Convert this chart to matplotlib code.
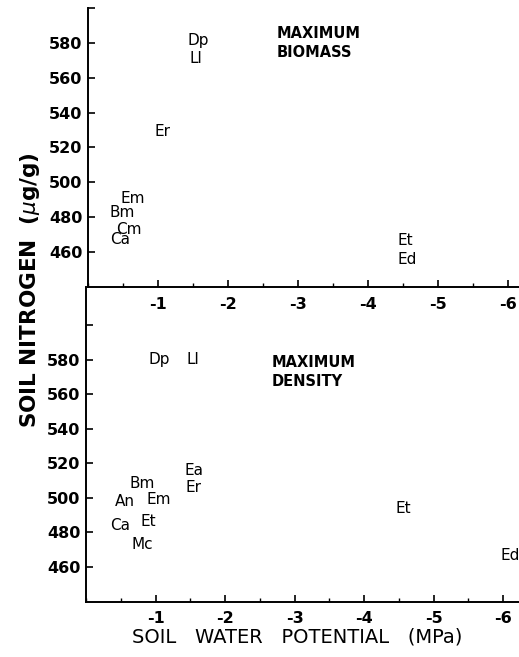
import matplotlib
matplotlib.use("Agg")
import matplotlib.pyplot as plt
from matplotlib.ticker import FixedLocator, FixedFormatter, MultipleLocator

# species codes placed at (soil water potential MPa, soil nitrogen ug/g)
biomass_codes = ["Dp", "Ll", "Er", "Em", "Bm", "Cm", "Ca", "Et", "Ed"]
biomass_psi = [-1.57, -1.54, -1.07, -0.64, -0.49, -0.59, -0.46, -4.53, -4.56]
biomass_n = [581.5, 571.0, 529.0, 490.5, 482.5, 473.0, 467.0, 466.5, 455.5]

density_codes = ["Dp", "Ll", "Ea", "Er", "Bm", "An", "Em", "Ca", "Et", "Mc", "Et", "Ed"]
density_psi = [-1.06, -1.54, -1.56, -1.54, -0.81, -0.56, -1.04, -0.49, -0.89, -0.81, -4.57, -6.10]
density_n = [580.0, 580.0, 516.0, 506.0, 508.5, 498.0, 499.0, 484.0, 486.5, 473.0, 494.0, 466.5]

y_ticks = [460, 480, 500, 520, 540, 560, 580, 600]
y_labels = ["460", "480", "500", "520", "540", "560", "580", ""]
x_ticks = [-1, -2, -3, -4, -5, -6]
x_labels = ["-1", "-2", "-3", "-4", "-5", "-6"]

W, H = 519, 657
fig = plt.figure(figsize=(W / 100, H / 100), dpi=100)

ax_top = fig.add_axes([88 / W, (H - 287) / H, (W - 88) / W, 279 / H])
ax_bot = fig.add_axes([86 / W, (H - 601.5) / H, (W - 86) / W, 314.5 / H])


def style_axis(ax, ylim, xlim):
    ax.set_xlim(*xlim)
    ax.set_ylim(*ylim)
    ax.patch.set_alpha(0)
    for side in ("top", "right"):
        ax.spines[side].set_visible(False)
    for side in ("left", "bottom"):
        ax.spines[side].set_linewidth(1.4)
    ax.yaxis.set_major_locator(FixedLocator(y_ticks))
    ax.yaxis.set_major_formatter(FixedFormatter(y_labels))
    ax.xaxis.set_major_locator(FixedLocator(x_ticks))
    ax.xaxis.set_major_formatter(FixedFormatter(x_labels))
    ax.xaxis.set_minor_locator(MultipleLocator(0.5))
    ax.tick_params(axis="both", which="major", direction="in", length=5,
                   width=1.2, labelsize=11.5)
    ax.tick_params(axis="x", which="minor", direction="in", length=3, width=1.0)
    ax.tick_params(axis="x", which="major", pad=7)
    ax.tick_params(axis="y", which="major", pad=4)
    for lab in ax.get_xticklabels() + ax.get_yticklabels():
        lab.set_fontweight("bold")


style_axis(ax_top, (440, 600), (0, -6.16))
style_axis(ax_bot, (440, 622), (0, -6.23))

for code, x, y in zip(biomass_codes, biomass_psi, biomass_n):
    ax_top.text(x, y, code, fontsize=11, ha="center", va="center")
for code, x, y in zip(density_codes, density_psi, density_n):
    ax_bot.text(x, y, code, fontsize=11, ha="center", va="center")

ax_top.text(-2.69, 580, "MAXIMUM\nBIOMASS", fontsize=10.5, fontweight="bold",
            ha="left", va="center", linespacing=1.35)
ax_bot.text(-2.67, 573, "MAXIMUM\nDENSITY", fontsize=10.5, fontweight="bold",
            ha="left", va="center", linespacing=1.35)

fig.text(297 / W, 1 - 637 / H, "SOIL   WATER   POTENTIAL   (MPa)",
         fontsize=14, ha="center", va="center")
fig.text(30 / W, 1 - 290 / H, "SOIL NITROGEN  ($\\mu$g/g)", fontsize=15.5,
         fontweight="bold", rotation=90, ha="center", va="center")

fig.savefig("out.png", dpi=100)
